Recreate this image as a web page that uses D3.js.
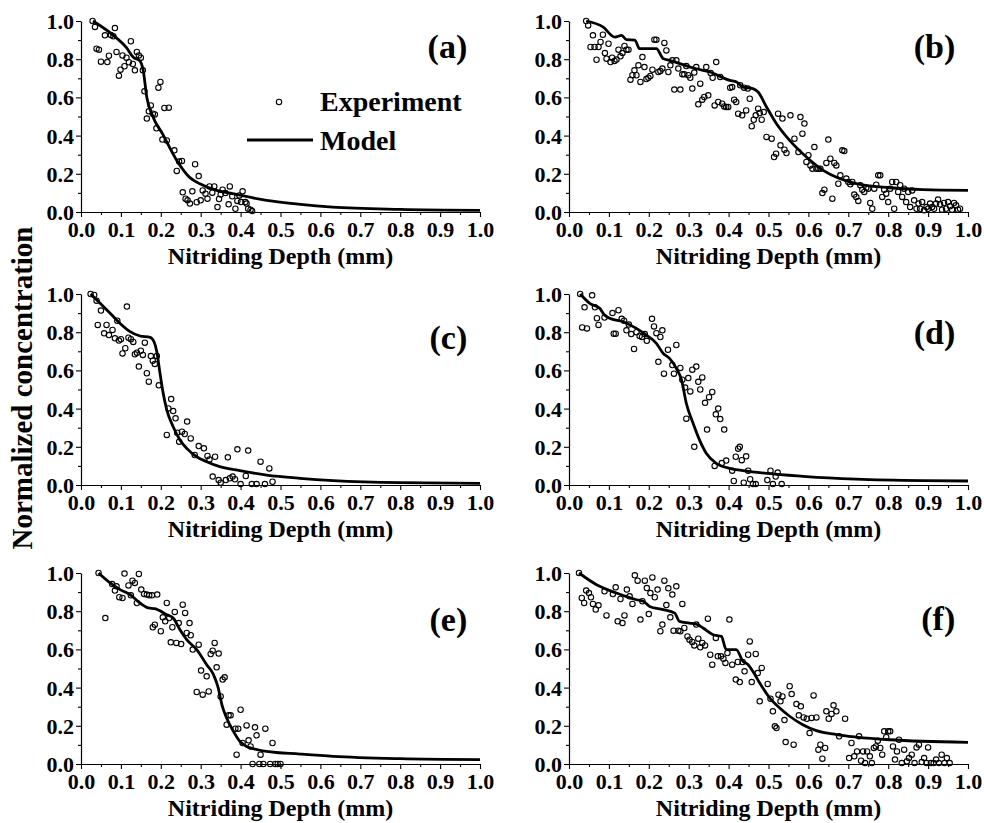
<!DOCTYPE html>
<html>
<head>
<meta charset="utf-8">
<script src="https://cdn.jsdelivr.net/npm/d3@7"></script>
<style>
  body { margin: 0; background: #fff; }
</style>
</head>
<body>
<svg width="984" height="823"></svg>
<script>
// tick values and panel names
const xTicks = [0, 0.1, 0.2, 0.3, 0.4, 0.5, 0.6, 0.7, 0.8, 0.9, 1.0];
const yTicks = [0, 0.2, 0.4, 0.6, 0.8, 1.0];
const panelNames = ['(a)', '(b)', '(c)', '(d)', '(e)', '(f)'];
const legendNames = ['Experiment', 'Model'];

// experiment points [depth mm, normalized conc]
const expA = [[0.029,1.0],[0.035,0.969],[0.039,0.855],[0.045,0.85],[0.05,0.787],[0.06,0.925],[0.066,0.785],[0.07,0.818],
  [0.075,0.927],[0.081,0.92],[0.085,0.963],[0.089,0.838],[0.095,0.714],[0.099,0.745],[0.104,0.82],[0.109,0.763],[0.114,0.808],
  [0.12,0.784],[0.125,0.894],[0.13,0.775],[0.135,0.742],[0.14,0.838],[0.145,0.82],[0.15,0.808],[0.155,0.742],[0.159,0.632],
  [0.165,0.489],[0.17,0.527],[0.175,0.558],[0.18,0.515],[0.185,0.511],[0.189,0.438],[0.194,0.651],[0.199,0.681],[0.204,0.379],
  [0.209,0.545],[0.215,0.375],[0.22,0.546],[0.234,0.323],[0.24,0.215],[0.246,0.264],[0.253,0.267],[0.255,0.103],[0.262,0.07],
  [0.267,0.061],[0.273,0.044],[0.279,0.108],[0.286,0.25],[0.29,0.051],[0.295,0.188],[0.3,0.061],[0.305,0.113],[0.312,0.096],
  [0.317,0.07],[0.322,0.134],[0.329,0.101],[0.334,0.134],[0.342,0.026],[0.346,0.068],[0.35,0.091],[0.355,0.117],[0.362,0.099],
  [0.37,0.04],[0.373,0.134],[0.379,0.082],[0.387,0.017],[0.392,0.058],[0.397,0.087],[0.401,0.052],[0.405,0.108],[0.412,0.052],
  [0.415,0.044],[0.419,0.017],[0.425,0.012],[0.429,0.005]];
const expB = [[0.043,1.0],[0.048,0.977],[0.054,0.864],[0.06,0.925],[0.064,0.864],[0.069,0.797],[0.074,0.864],[0.079,0.89],
  [0.085,0.928],[0.09,0.832],[0.094,0.803],[0.099,0.881],[0.104,0.785],[0.108,0.808],[0.114,0.791],[0.119,0.798],[0.124,0.85],
  [0.129,0.815],[0.134,0.832],[0.139,0.869],[0.144,0.85],[0.149,0.85],[0.154,0.693],[0.159,0.716],[0.164,0.742],[0.169,0.716],
  [0.174,0.768],[0.179,0.681],[0.184,0.811],[0.189,0.759],[0.194,0.696],[0.199,0.703],[0.204,0.712],[0.209,0.745],[0.214,0.902],
  [0.219,0.902],[0.224,0.733],[0.229,0.738],[0.234,0.751],[0.239,0.885],[0.244,0.846],[0.249,0.733],[0.254,0.768],[0.259,0.794],
  [0.264,0.641],[0.269,0.794],[0.274,0.751],[0.279,0.641],[0.284,0.721],[0.289,0.721],[0.294,0.764],[0.299,0.716],[0.304,0.703],
  [0.309,0.646],[0.314,0.73],[0.319,0.759],[0.324,0.564],[0.329,0.672],[0.334,0.588],[0.339,0.602],[0.344,0.759],[0.349,0.611],
  [0.355,0.728],[0.36,0.703],[0.365,0.558],[0.369,0.785],[0.374,0.576],[0.379,0.707],[0.384,0.567],[0.389,0.553],[0.394,0.55],
  [0.399,0.55],[0.404,0.651],[0.409,0.654],[0.414,0.588],[0.419,0.576],[0.424,0.515],[0.429,0.663],[0.434,0.506],[0.439,0.651],
  [0.444,0.532],[0.448,0.646],[0.453,0.593],[0.458,0.449],[0.463,0.483],[0.468,0.506],[0.474,0.541],[0.478,0.518],[0.483,0.483],
  [0.488,0.523],[0.495,0.393],[0.508,0.384],[0.514,0.288],[0.519,0.305],[0.524,0.515],[0.53,0.349],[0.535,0.489],[0.54,0.326],
  [0.545,0.309],[0.555,0.506],[0.565,0.384],[0.575,0.314],[0.58,0.497],[0.585,0.41],[0.59,0.463],[0.595,0.262],[0.6,0.297],
  [0.605,0.244],[0.61,0.227],[0.615,0.34],[0.62,0.227],[0.625,0.227],[0.63,0.227],[0.635,0.099],[0.64,0.117],[0.645,0.257],
  [0.65,0.379],[0.655,0.279],[0.66,0.07],[0.665,0.257],[0.67,0.244],[0.675,0.148],[0.68,0.192],[0.685,0.323],[0.69,0.319],
  [0.695,0.175],[0.7,0.157],[0.705,0.145],[0.71,0.157],[0.715,0.091],[0.72,0.079],[0.725,0.058],[0.73,0.14],[0.735,0.117],
  [0.74,0.105],[0.745,0.127],[0.75,0.122],[0.755,0.047],[0.76,0.017],[0.765,0.122],[0.77,0.143],[0.775,0.192],[0.78,0.192],
  [0.785,0.079],[0.79,0.117],[0.795,0.096],[0.8,0.052],[0.805,0.122],[0.81,0.157],[0.815,0.017],[0.82,0.157],[0.825,0.105],
  [0.83,0.14],[0.835,0.079],[0.84,0.122],[0.845,0.052],[0.85,0.105],[0.855,0.026],[0.86,0.113],[0.865,0.061],[0.871,0.017],
  [0.876,0.044],[0.88,0.017],[0.885,0.052],[0.89,0.009],[0.896,0.026],[0.9,0.017],[0.905,0.044],[0.91,0.026],[0.915,0.017],
  [0.92,0.044],[0.925,0.065],[0.93,0.04],[0.935,0.012],[0.94,0.047],[0.945,0.017],[0.95,0.052],[0.955,0.03],[0.96,0.012],
  [0.965,0.047],[0.97,0.035],[0.975,0.012],[0.98,0.017]];
const expC = [[0.024,1.0],[0.033,0.995],[0.039,0.965],[0.042,0.838],[0.05,0.913],[0.058,0.794],[0.064,0.838],[0.07,0.785],
  [0.079,0.812],[0.085,0.768],[0.091,0.86],[0.095,0.756],[0.1,0.763],[0.104,0.689],[0.111,0.716],[0.115,0.934],[0.119,0.771],
  [0.125,0.763],[0.131,0.749],[0.135,0.684],[0.14,0.693],[0.145,0.62],[0.15,0.703],[0.155,0.681],[0.16,0.745],[0.165,0.585],
  [0.17,0.541],[0.175,0.675],[0.18,0.651],[0.185,0.634],[0.19,0.675],[0.195,0.522],[0.215,0.262],[0.219,0.401],[0.226,0.45],
  [0.231,0.387],[0.237,0.349],[0.241,0.274],[0.246,0.227],[0.253,0.279],[0.26,0.267],[0.266,0.332],[0.275,0.244],[0.285,0.157],
  [0.295,0.204],[0.308,0.192],[0.317,0.152],[0.322,0.134],[0.33,0.044],[0.336,0.148],[0.345,0.026],[0.35,0.012],[0.363,0.026],
  [0.368,0.145],[0.373,0.035],[0.38,0.044],[0.386,0.03],[0.392,0.187],[0.4,0.005],[0.413,0.047],[0.419,0.18],[0.428,0.005],
  [0.44,0.005],[0.45,0.122],[0.461,0.005],[0.472,0.087],[0.48,0.017]];
const expD = [[0.028,1.0],[0.033,0.825],[0.039,0.93],[0.045,0.82],[0.058,0.993],[0.065,0.93],[0.07,0.873],[0.074,0.838],
  [0.089,0.877],[0.109,0.9],[0.112,0.792],[0.117,0.792],[0.124,0.915],[0.132,0.87],[0.138,0.86],[0.144,0.81],[0.15,0.84],
  [0.156,0.79],[0.163,0.712],[0.169,0.8],[0.177,0.78],[0.183,0.775],[0.19,0.79],[0.195,0.755],[0.208,0.87],[0.213,0.83],
  [0.219,0.795],[0.224,0.645],[0.229,0.775],[0.234,0.81],[0.238,0.583],[0.248,0.708],[0.259,0.628],[0.263,0.583],[0.269,0.733],
  [0.279,0.613],[0.284,0.551],[0.291,0.51],[0.294,0.347],[0.299,0.56],[0.304,0.49],[0.309,0.604],[0.314,0.2],[0.319,0.62],
  [0.324,0.54],[0.329,0.5],[0.334,0.563],[0.341,0.43],[0.346,0.29],[0.351,0.46],[0.359,0.487],[0.365,0.1],[0.368,0.37],
  [0.374,0.4],[0.379,0.345],[0.383,0.115],[0.389,0.29],[0.394,0.128],[0.409,0.075],[0.413,0.021],[0.418,0.148],[0.424,0.19],
  [0.428,0.2],[0.433,0.13],[0.438,0.012],[0.444,0.15],[0.449,0.075],[0.454,0.03],[0.461,0.005],[0.468,0.005],[0.497,0.026],
  [0.505,0.075],[0.511,0.005],[0.518,0.044],[0.523,0.065],[0.533,0.005]];
const expE = [[0.044,1.0],[0.061,0.764],[0.078,0.942],[0.085,0.908],[0.089,0.93],[0.096,0.873],[0.104,0.869],[0.109,0.997],
  [0.119,0.935],[0.125,0.883],[0.129,0.96],[0.135,0.948],[0.14,0.843],[0.145,0.995],[0.151,0.913],[0.158,0.89],[0.165,0.887],
  [0.171,0.883],[0.178,0.883],[0.18,0.716],[0.185,0.729],[0.191,0.887],[0.2,0.695],[0.205,0.768],[0.211,0.747],[0.215,0.843],
  [0.221,0.764],[0.225,0.637],[0.229,0.716],[0.235,0.796],[0.239,0.634],[0.245,0.738],[0.251,0.628],[0.255,0.834],[0.261,0.791],
  [0.265,0.686],[0.272,0.738],[0.275,0.674],[0.28,0.599],[0.29,0.377],[0.295,0.625],[0.301,0.489],[0.305,0.363],[0.315,0.459],
  [0.32,0.38],[0.325,0.576],[0.33,0.593],[0.335,0.634],[0.34,0.506],[0.345,0.578],[0.35,0.354],[0.355,0.442],[0.36,0.454],
  [0.365,0.206],[0.37,0.255],[0.375,0.255],[0.387,0.185],[0.39,0.049],[0.394,0.185],[0.4,0.284],[0.405,0.11],[0.415,0.202],
  [0.42,0.124],[0.425,0.092],[0.43,0.0],[0.436,0.192],[0.44,0.15],[0.447,0.0],[0.45,0.049],[0.457,0.0],[0.462,0.185],
  [0.474,0.0],[0.48,0.11],[0.487,0.0],[0.493,0.0],[0.5,0.0]];
const expF = [[0.025,1.0],[0.032,0.869],[0.038,0.843],[0.043,0.908],[0.05,0.895],[0.055,0.873],[0.06,0.838],[0.067,0.809],
  [0.074,0.831],[0.089,0.904],[0.094,0.778],[0.11,0.89],[0.117,0.925],[0.122,0.747],[0.129,0.864],[0.134,0.738],[0.139,0.778],
  [0.145,0.913],[0.152,0.878],[0.159,0.838],[0.165,0.988],[0.172,0.96],[0.179,0.756],[0.184,0.852],[0.19,0.96],[0.195,0.921],
  [0.2,0.785],[0.204,0.895],[0.209,0.977],[0.215,0.873],[0.222,0.913],[0.229,0.695],[0.234,0.73],[0.239,0.96],[0.244,0.832],
  [0.249,0.92],[0.254,0.768],[0.259,0.887],[0.262,0.698],[0.269,0.93],[0.274,0.698],[0.279,0.695],[0.284,0.838],[0.289,0.712],
  [0.297,0.668],[0.302,0.651],[0.309,0.639],[0.314,0.621],[0.319,0.73],[0.324,0.656],[0.329,0.611],[0.334,0.634],[0.341,0.621],
  [0.348,0.761],[0.354,0.572],[0.359,0.52],[0.368,0.66],[0.373,0.564],[0.381,0.564],[0.387,0.551],[0.392,0.529],[0.397,0.581],
  [0.402,0.756],[0.409,0.52],[0.418,0.442],[0.423,0.534],[0.428,0.429],[0.435,0.534],[0.44,0.485],[0.449,0.572],[0.453,0.642],
  [0.458,0.429],[0.468,0.576],[0.473,0.476],[0.478,0.328],[0.483,0.503],[0.498,0.419],[0.505,0.342],[0.511,0.276],[0.516,0.197],
  [0.52,0.188],[0.525,0.363],[0.53,0.328],[0.535,0.354],[0.54,0.23],[0.543,0.115],[0.553,0.407],[0.558,0.366],[0.563,0.101],
  [0.57,0.314],[0.576,0.255],[0.581,0.302],[0.588,0.244],[0.596,0.237],[0.603,0.162],[0.608,0.241],[0.613,0.359],[0.62,0.244],
  [0.625,0.075],[0.63,0.101],[0.635,0.028],[0.642,0.084],[0.645,0.276],[0.651,0.237],[0.658,0.262],[0.663,0.307],[0.67,0.276],
  [0.677,0.145],[0.692,0.237],[0.702,0.031],[0.708,0.11],[0.715,0.04],[0.722,0.066],[0.727,0.145],[0.732,0.017],[0.737,0.066],
  [0.742,0.005],[0.747,0.066],[0.754,0.04],[0.759,0.005],[0.764,0.084],[0.769,0.092],[0.774,0.122],[0.78,0.084],[0.785,0.049],
  [0.79,0.171],[0.795,0.14],[0.8,0.171],[0.805,0.171],[0.812,0.092],[0.817,0.023],[0.822,0.066],[0.827,0.127],[0.834,0.005],
  [0.84,0.075],[0.847,0.014],[0.852,0.031],[0.859,0.049],[0.866,0.005],[0.871,0.087],[0.877,0.101],[0.884,0.01],[0.89,0.031],
  [0.896,0.005],[0.9,0.087],[0.907,0.005],[0.914,0.005],[0.92,0.023],[0.927,0.005],[0.934,0.049],[0.941,0.005],[0.947,0.031],
  [0.954,0.005]];

// model curves
const modA = [[0.03,1.0],[0.081,0.925],[0.114,0.86],[0.131,0.81],[0.148,0.79],[0.156,0.74],[0.165,0.6],[0.18,0.5],[0.204,0.41],
  [0.24,0.27],[0.273,0.18],[0.298,0.148],[0.34,0.113],[0.38,0.096],[0.465,0.061],[0.55,0.04],[0.63,0.026],[0.8,0.014],[1.0,0.009]];
const modB = [[0.043,1.0],[0.085,0.969],[0.115,0.916],[0.132,0.925],[0.144,0.902],[0.165,0.9],[0.177,0.855],[0.219,0.855],
  [0.236,0.803],[0.252,0.794],[0.319,0.75],[0.353,0.733],[0.403,0.689],[0.42,0.68],[0.436,0.654],[0.461,0.646],[0.474,0.628],
  [0.495,0.55],[0.52,0.462],[0.553,0.375],[0.595,0.288],[0.637,0.218],[0.678,0.175],[0.72,0.148],[0.804,0.127],[0.887,0.117],[1.0,0.113]];
const modC = [[0.024,1.0],[0.048,0.951],[0.073,0.899],[0.098,0.846],[0.123,0.803],[0.148,0.78],[0.173,0.773],[0.183,0.75],
  [0.19,0.698],[0.198,0.585],[0.206,0.48],[0.215,0.393],[0.231,0.305],[0.248,0.236],[0.265,0.192],[0.29,0.148],[0.315,0.122],
  [0.348,0.096],[0.398,0.075],[0.465,0.052],[0.549,0.035],[0.632,0.023],[0.8,0.012],[1.0,0.009]];
const modD = [[0.028,1.0],[0.052,0.951],[0.077,0.925],[0.089,0.89],[0.102,0.873],[0.135,0.855],[0.169,0.82],[0.194,0.785],
  [0.219,0.742],[0.236,0.689],[0.252,0.663],[0.269,0.611],[0.282,0.55],[0.294,0.428],[0.311,0.323],[0.327,0.236],[0.344,0.166],
  [0.369,0.113],[0.403,0.087],[0.436,0.075],[0.511,0.058],[0.595,0.044],[0.72,0.031],[0.887,0.023],[1.0,0.021]];
const modE = [[0.044,1.0],[0.073,0.948],[0.098,0.913],[0.123,0.887],[0.148,0.843],[0.169,0.817],[0.185,0.813],[0.215,0.782],
  [0.231,0.764],[0.248,0.703],[0.265,0.651],[0.29,0.599],[0.315,0.52],[0.332,0.468],[0.344,0.398],[0.353,0.311],[0.365,0.241],
  [0.382,0.171],[0.398,0.119],[0.415,0.092],[0.432,0.08],[0.465,0.066],[0.549,0.052],[0.632,0.04],[0.8,0.028],[1.0,0.023]];
const modF = [[0.025,1.0],[0.069,0.939],[0.119,0.895],[0.169,0.86],[0.186,0.852],[0.202,0.825],[0.236,0.808],[0.265,0.79],
  [0.277,0.747],[0.302,0.738],[0.323,0.729],[0.336,0.712],[0.361,0.677],[0.382,0.668],[0.394,0.599],[0.419,0.599],[0.436,0.538],
  [0.449,0.52],[0.461,0.485],[0.478,0.424],[0.503,0.346],[0.528,0.293],[0.553,0.25],[0.586,0.206],[0.62,0.175],[0.67,0.154],
  [0.72,0.141],[0.804,0.127],[0.887,0.119],[1.0,0.113]];

const experiments = [expA, expB, expC, expD, expE, expF];
const models = [modA, modB, modC, modD, modE, modF];

// layout
const W = 399, H = 191;
const colX = [81, 569];
const rowY = [21, 294, 573];
const nameY = [0.864, 0.869, 0.77, 0.80, 0.754, 0.76];
const serif = '"Liberation Serif", "Times New Roman", serif';

const svg = d3.select('svg');

panelNames.forEach((name, i) => {
  const g = svg.append('g')
    .attr('transform', `translate(${colX[i % 2]}, ${rowY[Math.floor(i / 2)]})`);

  const x = d3.scaleLinear().domain([0, 1]).range([0, W]);
  const y = d3.scaleLinear().domain([0, 1]).range([H, 0]);

  // minor ticks
  g.append('g')
    .attr('transform', `translate(0, ${H})`)
    .call(d3.axisBottom(x).tickValues(d3.range(0.05, 1, 0.1)).tickSize(3).tickFormat(''))
    .call(a => a.select('.domain').remove());
  g.append('g')
    .call(d3.axisLeft(y).tickValues(d3.range(0.1, 1, 0.2)).tickSize(3).tickFormat(''))
    .call(a => a.select('.domain').remove());

  const xa = g.append('g')
    .attr('transform', `translate(0, ${H})`)
    .call(d3.axisBottom(x).tickValues(xTicks).tickSize(5).tickSizeOuter(0).tickPadding(4).tickFormat(d3.format('.1f')));
  const ya = g.append('g')
    .call(d3.axisLeft(y).tickValues(yTicks).tickSize(5).tickSizeOuter(0).tickPadding(2).tickFormat(d3.format('.1f')));

  [xa, ya].forEach(a => {
    a.attr('font-family', null).attr('font-size', null);
    a.selectAll('text').attr('font-size', 22).style('font-family', serif)
      .style('font-weight', 'bold').style('fill', '#000');
    a.selectAll('line, path').attr('stroke', '#000').attr('stroke-width', 1.2);
  });
  ya.selectAll('text').attr('dy', '0.34em');
  xa.selectAll('text').attr('dy', '0.73em');
  g.selectAll('.tick line').attr('stroke', '#000').attr('stroke-width', 1.1);

  g.append('text')
    .attr('x', W / 2).attr('y', H + 52)
    .attr('text-anchor', 'middle').attr('font-size', 24)
    .style('font-family', serif).style('font-weight', 'bold')
    .text('Nitriding Depth (mm)');

  g.append('g').selectAll('circle')
    .data(experiments[i])
    .join('circle')
    .attr('cx', d => x(d[0])).attr('cy', d => y(d[1]))
    .attr('r', 2.7)
    .attr('fill', 'none').attr('stroke', '#000').attr('stroke-width', 1.1);

  g.append('path')
    .datum(models[i])
    .attr('fill', 'none').attr('stroke', '#000').attr('stroke-width', 2.8)
    .attr('d', d3.line().x(d => x(d[0])).y(d => y(d[1])).curve(d3.curveMonotoneX));

  g.append('text')
    .attr('x', x(0.968)).attr('y', y(nameY[i]))
    .attr('text-anchor', 'end').attr('dominant-baseline', 'central')
    .attr('font-size', 34)
    .style('font-family', serif).style('font-weight', 'bold')
    .text(name);

  if (i === 0) {
    // legend
    g.append('circle').attr('cx', 198).attr('cy', 81).attr('r', 2.7)
      .attr('fill', 'none').attr('stroke', '#000').attr('stroke-width', 1.1);
    g.append('text').attr('x', 239).attr('y', 90).attr('font-size', 28)
      .style('font-family', serif).style('font-weight', 'bold').text(legendNames[0]);
    g.append('line').attr('x1', 166).attr('x2', 232).attr('y1', 119).attr('y2', 119)
      .attr('stroke', '#000').attr('stroke-width', 2.8);
    g.append('text').attr('x', 239).attr('y', 129).attr('font-size', 28)
      .style('font-family', serif).style('font-weight', 'bold').text(legendNames[1]);
  }
});

svg.append('text')
  .attr('transform', 'translate(32, 388) rotate(-90)')
  .attr('text-anchor', 'middle').attr('font-size', 29)
  .style('font-family', serif).style('font-weight', 'bold')
  .text('Normalized concentration');
</script>
</body>
</html>
